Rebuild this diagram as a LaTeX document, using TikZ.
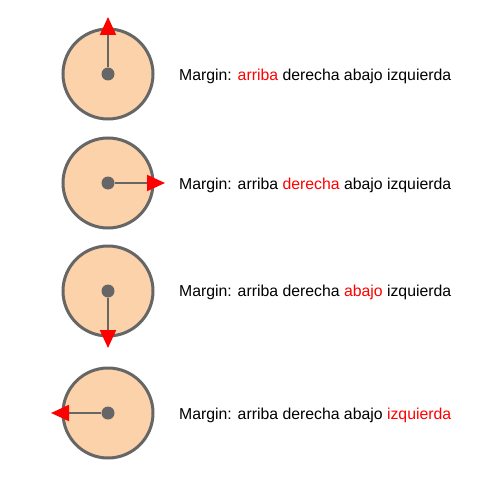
\documentclass[tikz,border=0pt]{standalone}
\usepackage{fontspec}
\setmainfont{Liberation Sans}
\usepackage{xcolor}
\usetikzlibrary{arrows.meta,calc,positioning}
\definecolor{peach}{RGB}{252,210,170}
\definecolor{rim}{RGB}{102,102,102}
\tikzset{
  disc/.style={circle,draw=rim,fill=peach,line width=3pt,minimum size=90pt,inner sep=0pt},
  hub/.style={circle,fill=rim,minimum size=13pt,inner sep=0pt},
  pointer/.style={draw=rim,line width=2pt,-{Triangle[length=18pt,width=16pt,color=red]}},
  caption/.style={anchor=base west,inner sep=0pt,font=\fontsize{15.8pt}{18pt}\selectfont}
}
\newcommand{\hl}[1]{\textcolor{red}{#1}}
\begin{document}
\begin{tikzpicture}[x=1pt,y=-1pt]
   		\useasboundingbox (0,0) rectangle (500,500); % picture frame
   		\node[disc] (d1) at (108,74) {}; % top disc
   		\node[hub] (h1) at (d1) {};
   		\coordinate (t1) at ($(h1)+(0,-57)$);
   		\draw[pointer] (h1) -- (t1); % arrow up
   		\node[caption] (l1) at (179,81) {Margin: \hl{arriba} derecha abajo izquierda};
   		\node[disc] (d2) at (108,183) {}; % second disc
   		\node[hub] (h2) at (d2) {};
   		\coordinate (t2) at ($(h2)+(57,0)$);
   		\draw[pointer] (h2) -- (t2); % arrow right
   		\node[caption] (l2) at (179,189) {Margin: arriba \hl{derecha} abajo izquierda};
   		\node[disc] (d3) at (108,291) {}; % third disc
   		\node[hub] (h3) at (d3) {};
   		\coordinate (t3) at ($(h3)+(0,57)$);
   		\draw[pointer] (h3) -- (t3); % arrow down
   		\node[caption] (l3) at (179,296.5) {Margin: arriba derecha \hl{abajo} izquierda};
   		\node[disc] (d4) at (108,413) {}; % bottom disc
   		\node[hub] (h4) at (d4) {};
   		\coordinate (t4) at ($(h4)+(-57,0)$);
   		\draw[pointer] (h4) -- (t4); % arrow left
   		\node[caption] (l4) at (179,419) {Margin: arriba derecha abajo \hl{izquierda}};
\end{tikzpicture}
\end{document}
